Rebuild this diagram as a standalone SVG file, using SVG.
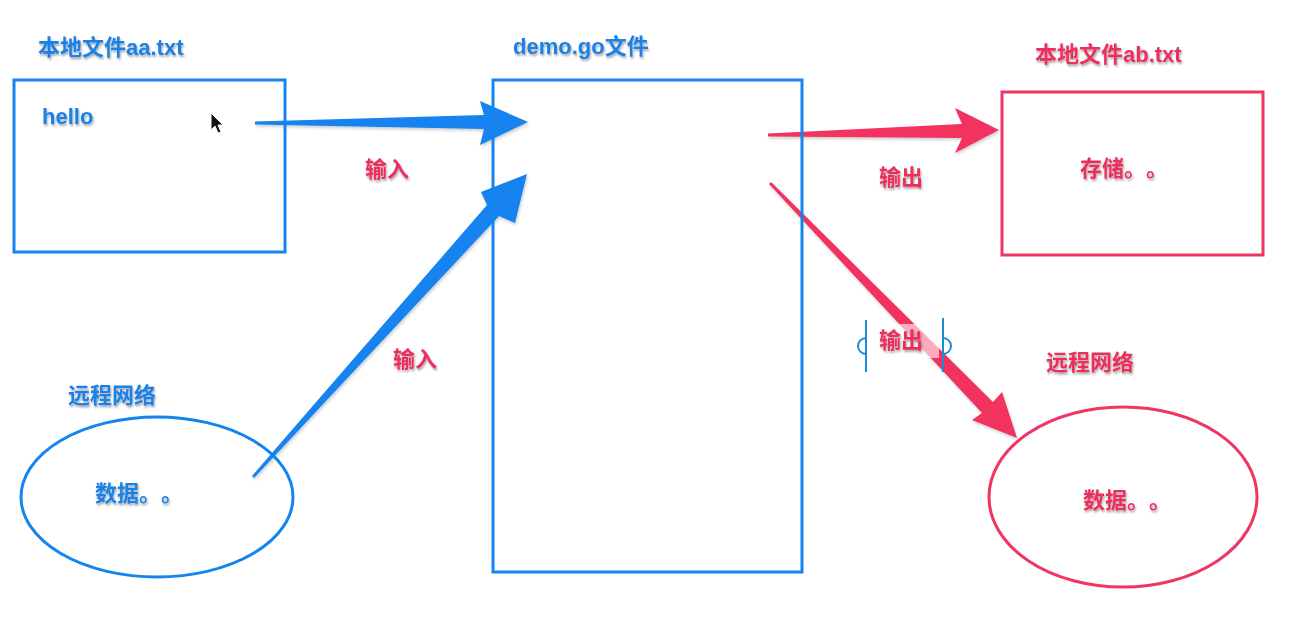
<svg xmlns="http://www.w3.org/2000/svg" width="1307" height="621" viewBox="0 0 1307 621">
<defs>
<filter id="ts" x="-10%" y="-30%" width="130%" height="170%"><feDropShadow dx="1" dy="2" stdDeviation="1.2" flood-color="#000" flood-opacity="0.35"/></filter>
<filter id="as" x="-10%" y="-10%" width="130%" height="130%"><feDropShadow dx="1" dy="2" stdDeviation="1.5" flood-color="#000" flood-opacity="0.2"/></filter>
</defs>
<style>
text{font-family:"Liberation Sans","Noto Sans CJK SC",sans-serif;font-weight:bold;font-size:22px;filter:url(#ts)}
.b{fill:#1a80e6}
.r{fill:#ec2f5c}
.bs{fill:none;stroke:#1484ee;stroke-width:3}
.rs{fill:none;stroke:#ef3563;stroke-width:3}
.ba{fill:#1283f0;filter:url(#as)}
.ra{fill:#f2305e;filter:url(#as)}
</style>
<rect width="1307" height="621" fill="#fff"/>

<g id="connectors">
<polygon class="ba" points="255,121.5 484,115 480,101 528,122 480,145 484,129 255,124.5"/>
<polygon class="ba" points="252,476 487,205 481,192 527,174 515,223 499,216 254,478"/>
<polygon class="ra" points="768,133.5 962,124 955,108 999,130 955,153 962,138 768,136.5"/>
<polygon class="ra" points="771,182 993,402 1002,392 1017,438 972,420 982,413 769,184"/>
<text class="r" x="365" y="177">输入</text>
<text class="r" x="393" y="367">输入</text>
<text class="r" x="879" y="185">输出</text>
<rect x="877" y="324" width="62" height="34" fill="#fff" opacity="0.6"/>
<text class="r" x="879" y="348">输出</text>
<g fill="none" stroke="#1b8bd4" stroke-width="2">
<line x1="866" y1="320" x2="866" y2="372"/>
<path d="M866 338 A8 8 0 0 0 866 354"/>
<line x1="943" y1="318" x2="943" y2="372"/>
<path d="M943 338 A8 8 0 0 1 943 354"/>
</g>
</g>

<g id="local-aa">
<rect class="bs" x="14" y="80" width="271" height="172"/>
<text class="b" x="38" y="55">本地文件aa.txt</text>
<text class="b" x="42" y="124">hello</text>
<path d="M211 113 L211 130 L215 126 L218 133 L221 132 L218 125 L223 125 Z" fill="#111" stroke="#fff" stroke-width="1"/>
</g>

<g id="demo-go">
<rect class="bs" x="493" y="80" width="309" height="492"/>
<text class="b" x="513" y="54">demo.go文件</text>
</g>

<g id="local-ab">
<rect class="rs" x="1002" y="92" width="261" height="163"/>
<text class="r" x="1035" y="62">本地文件ab.txt</text>
<text class="r" x="1080" y="176">存储<tspan x="1124">。</tspan><tspan x="1146">。</tspan></text>
</g>

<g id="remote-left">
<ellipse class="bs" cx="157" cy="497" rx="136" ry="80"/>
<text class="b" x="68" y="403">远程网络</text>
<text class="b" x="95" y="501">数据<tspan x="139">。</tspan><tspan x="161">。</tspan></text>
</g>

<g id="remote-right">
<ellipse class="rs" cx="1123" cy="497" rx="134" ry="90"/>
<text class="r" x="1046" y="370">远程网络</text>
<text class="r" x="1083" y="508">数据<tspan x="1127">。</tspan><tspan x="1149">。</tspan></text>
</g>
</svg>
